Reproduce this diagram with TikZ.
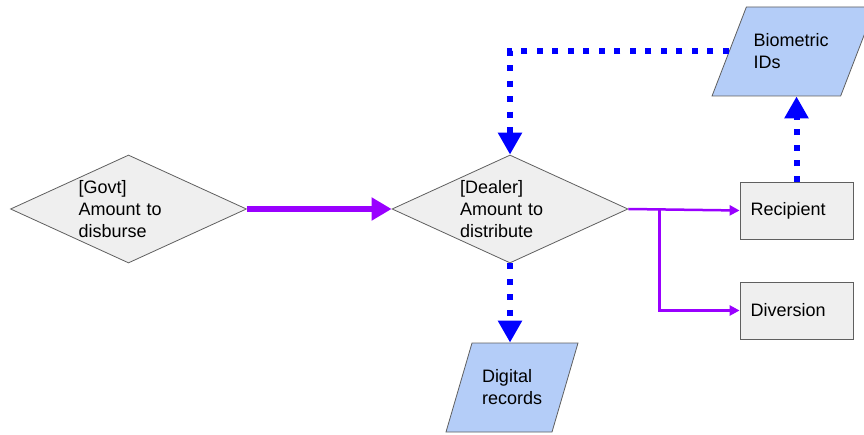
\documentclass[tikz,border=0pt]{standalone}
\usepackage{fontspec}
\setmainfont{Liberation Sans}
\usetikzlibrary{shapes.geometric,arrows.meta,positioning}

\definecolor{boxgray}{RGB}{239,239,239}
\definecolor{edgegray}{RGB}{95,95,95}
\definecolor{datablue}{RGB}{180,205,248}
\definecolor{flowpurple}{RGB}{153,0,255}
\definecolor{idblue}{RGB}{0,0,255}

\tikzset{
  dmd/.style={diamond, draw=edgegray, fill=boxgray, line width=0.8pt,
    minimum width=236pt, minimum height=108pt, inner sep=0pt},
  box/.style={rectangle, draw=edgegray, fill=boxgray, line width=0.8pt,
    minimum width=113pt, minimum height=57pt, inner sep=0pt},
  para/.style={trapezium, trapezium left angle=72, trapezium right angle=108,
    trapezium stretches=true, draw=edgegray, fill=datablue, line width=0.8pt,
    minimum width=132pt, minimum height=89pt, inner sep=2pt},
  txt/.style={font=\fontsize{18pt}{22pt}\selectfont, align=left, inner sep=0pt},
  bigflow/.style={draw=flowpurple, line width=5.5pt,
    -{Triangle[length=20pt,width=22pt]}},
  smallflow/.style={draw=flowpurple, line width=2.5pt,
    -{Triangle[length=10pt,width=10pt]}},
  idflow/.style={draw=idblue, line width=6pt, dash pattern=on 6pt off 9.5pt,
    -{Triangle[length=22pt,width=23pt]}}
}

\begin{document}
\begin{tikzpicture}[x=1pt, y=-1pt]
%\draw [help lines, step=10pt](0,0) grid (864,435);
\useasboundingbox (0,0) rectangle (864,435);

% shapes
\node [dmd] (govt) at (128.5,209) {};
\node [dmd] (dealer) at (510,209) {};
\node [box] (rec) at (796.5,210.5) {};
\node [box] (div) at (796.5,310.5) {};
\node [para, minimum width=163pt, trapezium left angle=70, trapezium right angle=110] (bio) at (793.5,51.5) {};
\node [para] (dig) at (512,387.5) {};

% texts
\node [txt, text width=100pt] (govt-txt) at (govt) {[Govt]\\Amount to\\disburse};
\node [txt, text width=100pt] (dealer-txt) at (dealer) {[Dealer]\\Amount to\\distribute};
\node [txt, text width=92pt] (rec-txt) at (rec) {Recipient};
\node [txt, text width=92pt] (div-txt) at (div) {Diversion};
\node [txt, text width=80pt] (bio-txt) at (bio) {Biometric\\IDs};
\node [txt, text width=60pt] (dig-txt) at (dig) {Digital\\records};

% money flow
\draw [bigflow] (govt.east) -- (dealer.west);
\coordinate [right=31pt of dealer.east] (split);
\draw [smallflow] (dealer.east) -- (rec.west);
\draw [smallflow] (split) |- (div.west);

% data flow
\draw [idflow] (dealer.south) -- (dealer.south |- dig.north);
\draw [idflow] (rec.north) -- (rec.north |- bio.south);
\draw [idflow] (bio.west) -| (dealer.north);

\end{tikzpicture}
\end{document}
